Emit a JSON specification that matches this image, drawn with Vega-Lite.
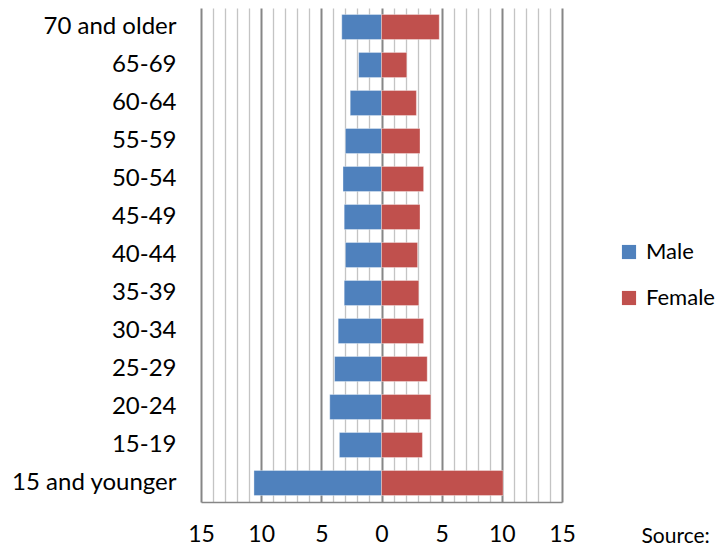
{
  "$schema": "https://vega.github.io/schema/vega-lite/v6.json",
  "width": 361,
  "height": 494,
  "autosize": {"type": "none"},
  "padding": {"left": 201, "top": 8, "right": 155, "bottom": 48},
  "background": "white",
  "config": {
    "font": "Lato",
    "view": {"stroke": null},
    "axis": {"labelFont": "Lato", "labelColor": "#000000", "labelFontSize": 22}
  },
  "data": {
    "values": [
      {"age": "70 and older", "sex": "Male", "value": -3.3},
      {"age": "70 and older", "sex": "Female", "value": 4.8},
      {"age": "65-69", "sex": "Male", "value": -1.9},
      {"age": "65-69", "sex": "Female", "value": 2.1},
      {"age": "60-64", "sex": "Male", "value": -2.6},
      {"age": "60-64", "sex": "Female", "value": 2.9},
      {"age": "55-59", "sex": "Male", "value": -3.0},
      {"age": "55-59", "sex": "Female", "value": 3.2},
      {"age": "50-54", "sex": "Male", "value": -3.2},
      {"age": "50-54", "sex": "Female", "value": 3.5},
      {"age": "45-49", "sex": "Male", "value": -3.1},
      {"age": "45-49", "sex": "Female", "value": 3.2},
      {"age": "40-44", "sex": "Male", "value": -3.0},
      {"age": "40-44", "sex": "Female", "value": 3.0},
      {"age": "35-39", "sex": "Male", "value": -3.1},
      {"age": "35-39", "sex": "Female", "value": 3.1},
      {"age": "30-34", "sex": "Male", "value": -3.6},
      {"age": "30-34", "sex": "Female", "value": 3.5},
      {"age": "25-29", "sex": "Male", "value": -3.9},
      {"age": "25-29", "sex": "Female", "value": 3.8},
      {"age": "20-24", "sex": "Male", "value": -4.3},
      {"age": "20-24", "sex": "Female", "value": 4.1},
      {"age": "15-19", "sex": "Male", "value": -3.5},
      {"age": "15-19", "sex": "Female", "value": 3.4},
      {"age": "15 and younger", "sex": "Male", "value": -10.6},
      {"age": "15 and younger", "sex": "Female", "value": 10.1}
    ]
  },
  "mark": {"type": "bar", "stroke": "#ffffff", "strokeOpacity": 0.35, "strokeWidth": 1},
  "encoding": {
    "y": {
      "field": "age",
      "type": "nominal",
      "sort": null,
      "scale": {"paddingInner": 0.34, "paddingOuter": 0.17},
      "axis": {"title": null, "ticks": false, "domain": false, "grid": false, "labelPadding": 25, "labelFontSize": 24}
    },
    "x": {
      "field": "value",
      "type": "quantitative",
      "scale": {"domain": [-15, 15], "nice": false, "zero": false},
      "axis": {
        "values": [-15,-14,-13,-12,-11,-10,-9,-8,-7,-6,-5,-4,-3,-2,-1,0,1,2,3,4,5,6,7,8,9,10,11,12,13,14,15],
        "labelExpr": "datum.value % 5 === 0 ? abs(datum.value) : ''",
        "ticks": false,
        "domain": true,
        "domainColor": "#868686",
        "domainWidth": 1.5,
        "grid": true,
        "gridColor": {"condition": {"test": "datum.value % 5 === 0", "value": "#868686"}, "value": "#c4c4c4"},
        "gridWidth": {"condition": {"test": "datum.value % 5 === 0", "value": 2}, "value": 1.3},
        "labelPadding": 21,
        "labelFontSize": 23,
        "labelFlush": false,
        "title": "Source:",
        "titleFont": "Lato",
        "titleFontWeight": "normal",
        "titleFontSize": 21,
        "titleColor": "#000000",
        "titleAlign": "left",
        "titleAnchor": null,
        "titleX": 440,
        "titleY": 34,
        "titleBaseline": "middle"
      }
    },
    "color": {
      "field": "sex",
      "type": "nominal",
      "sort": ["Male", "Female"],
      "scale": {"domain": ["Male", "Female"], "range": ["#4f81bd", "#c0504d"]},
      "legend": {
        "title": null,
        "orient": "none",
        "legendX": 417,
        "legendY": 233,
        "symbolType": "square",
        "symbolSize": 200,
        "symbolStrokeWidth": 0,
        "labelFont": "Lato",
        "labelFontSize": 22,
        "labelColor": "#000000",
        "labelOffset": 6,
        "rowPadding": 24
      }
    }
  }
}
